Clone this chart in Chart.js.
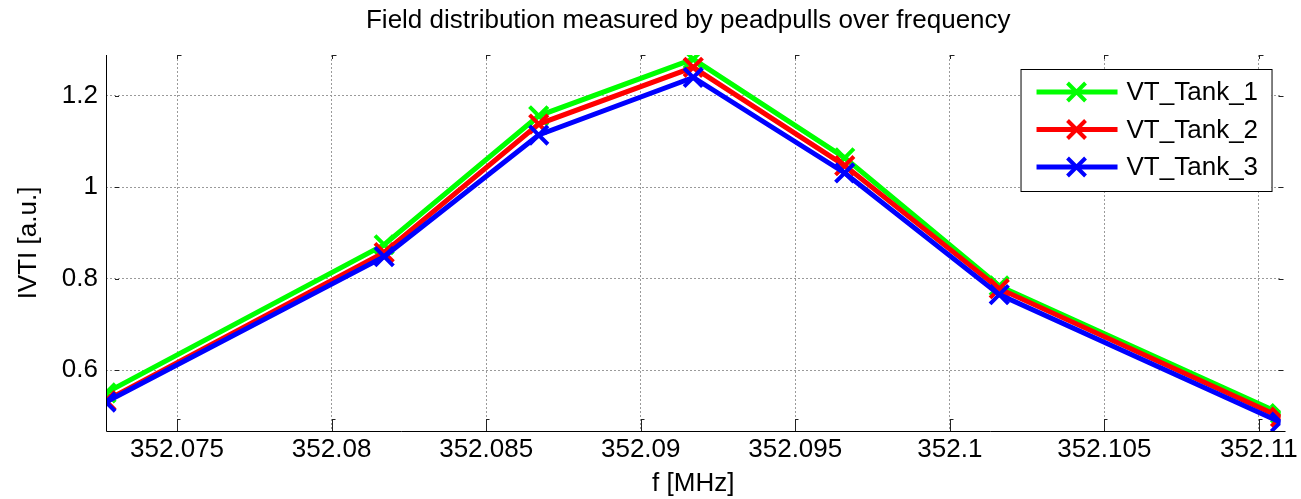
<!DOCTYPE html>
<html>
<head>
<meta charset="utf-8">
<script src="https://cdn.jsdelivr.net/npm/chart.js@4.4.1/dist/chart.umd.min.js"></script>
<style>
  html, body { margin: 0; padding: 0; background: #fff; }
  #wrap { position: relative; width: 1301px; height: 499px; }
</style>
</head>
<body>
<div id="wrap"><canvas id="chart"></canvas></div>
<script>
// Peak-pull field measurements, one series per tank
const freqMHz  = [352.0727, 352.0817, 352.0867, 352.0917, 352.0966, 352.1016, 352.1107];
const vtTank1  = [0.550, 0.874, 1.156, 1.280, 1.064, 0.784, 0.505];
const vtTank2  = [0.533, 0.857, 1.138, 1.262, 1.047, 0.778, 0.497];
const vtTank3  = [0.530, 0.848, 1.114, 1.240, 1.031, 0.765, 0.486];
const seriesNames  = ['VT_Tank_1', 'VT_Tank_2', 'VT_Tank_3'];
const seriesColors = ['#00ff00', '#ff0000', '#0000ff'];
const xTickValues = [352.075, 352.08, 352.085, 352.09, 352.095, 352.1, 352.105, 352.11];
const yTickValues = [0.6, 0.8, 1.0, 1.2];
const xLimits = [352.0727, 352.1107];
const yLimits = [0.4667, 1.289];
const chartTitle = 'Field distribution measured by peadpulls over frequency';

const FONT = "'Liberation Sans', Arial, Helvetica, sans-serif";
const seriesValues = [vtTank1, vtTank2, vtTank3];

const datasets = seriesValues.map((vals, i) => ({
  label: seriesNames[i],
  data: freqMHz.map((f, k) => ({ x: f, y: vals[k] })),
  borderColor: seriesColors[i],
  backgroundColor: seriesColors[i],
  borderWidth: 5,
  pointStyle: 'crossRot',
  pointRadius: 13,
  pointBorderWidth: 4,
  pointHoverRadius: 13,
  tension: 0,
  fill: false,
  order: 3 - i          // blue drawn last, on top
}));

// Title over the axes, axis lines, inward tick marks and the boxed legend
const axesAndLegend = {
  id: 'axesAndLegend',
  afterDatasetsDraw(chart) {
    const { ctx, chartArea: a, scales } = chart;
    ctx.save();

    ctx.fillStyle = '#000';
    ctx.font = `26px ${FONT}`;
    ctx.textAlign = 'center';
    ctx.textBaseline = 'middle';
    ctx.fillText(chartTitle, (a.left + a.right) / 2 - 5, 21);

    ctx.strokeStyle = '#000';
    ctx.lineWidth = 1;
    ctx.beginPath();
    ctx.moveTo(a.left + 0.5, a.top);
    ctx.lineTo(a.left + 0.5, a.bottom + 0.5);
    ctx.lineTo(a.right + 5, a.bottom + 0.5);
    ctx.stroke();

    ctx.strokeStyle = '#222';
    ctx.beginPath();
    xTickValues.forEach(v => {
      const x = Math.round(scales.x.getPixelForValue(v)) + 0.5;
      ctx.moveTo(x, a.bottom);
      ctx.lineTo(x, a.bottom - 12);
      ctx.moveTo(x, a.bottom - 11.5);
      ctx.lineTo(x + 3, a.bottom - 11.5);
      ctx.moveTo(x, a.top);
      ctx.lineTo(x, a.top + 4);
      ctx.moveTo(x, a.top + 0.5);
      ctx.lineTo(x + 4, a.top + 0.5);
    });
    yTickValues.forEach(v => {
      const y = Math.round(scales.y.getPixelForValue(v)) + 0.5;
      ctx.moveTo(a.left + 9, y);
      ctx.lineTo(a.left + 13, y);
      ctx.moveTo(a.right - 2, y);
      ctx.lineTo(a.right + 3, y);
    });
    ctx.stroke();

    // legend box
    const w = 251, h = 122;
    const lx = a.right - 260, ly = a.top + 14;
    ctx.fillStyle = '#fff';
    ctx.fillRect(lx, ly, w, h);
    ctx.strokeStyle = '#000';
    ctx.lineWidth = 1;
    ctx.strokeRect(lx + 0.5, ly + 0.5, w, h);
    seriesNames.forEach((name, i) => {
      const cy = ly + 23 + i * 37.5;
      ctx.strokeStyle = seriesColors[i];
      ctx.lineWidth = 5;
      ctx.beginPath();
      ctx.moveTo(lx + 16, cy);
      ctx.lineTo(lx + 97, cy);
      ctx.stroke();
      const cx = lx + 56, r = 9;
      ctx.lineWidth = 4;
      ctx.beginPath();
      ctx.moveTo(cx - r, cy - r); ctx.lineTo(cx + r, cy + r);
      ctx.moveTo(cx - r, cy + r); ctx.lineTo(cx + r, cy - r);
      ctx.stroke();
      ctx.fillStyle = '#000';
      ctx.font = `26px ${FONT}`;
      ctx.textAlign = 'left';
      ctx.textBaseline = 'middle';
      ctx.fillText(name, lx + 106, cy + 1);
    });
    ctx.restore();
  }
};

new Chart(document.getElementById('chart'), {
  type: 'line',
  data: { datasets },
  plugins: [axesAndLegend],
  options: {
    responsive: true,
    maintainAspectRatio: false,
    animation: false,
    events: [],
    layout: { padding: { left: 0, right: 16, top: 55, bottom: 0 } },
    plugins: {
      legend: { display: false },
      tooltip: { enabled: false },
      title: { display: false }
    },
    scales: {
      x: {
        type: 'linear',
        min: xLimits[0],
        max: xLimits[1],
        afterBuildTicks: s => { s.ticks = xTickValues.map(v => ({ value: v })); },
        afterFit: s => { s.height = 68; },
        ticks: {
          color: '#000',
          font: { family: FONT, size: 26 },
          padding: 3,
          maxRotation: 0,
          autoSkip: false,
          callback: v => String(+Number(v).toFixed(3))
        },
        grid: { color: '#9a9a9a', lineWidth: 1, drawTicks: false },
        border: { display: false, dash: [2, 2] },
        title: {
          display: true,
          text: 'f [MHz]',
          color: '#000',
          font: { family: FONT, size: 26 },
          padding: { top: 0, bottom: 0 }
        }
      },
      y: {
        type: 'linear',
        min: yLimits[0],
        max: yLimits[1],
        afterBuildTicks: s => { s.ticks = yTickValues.map(v => ({ value: v })); },
        afterFit: s => { s.width = 106; },
        ticks: {
          color: '#000',
          font: { family: FONT, size: 26 },
          padding: 8,
          autoSkip: false,
          callback: v => String(+Number(v).toFixed(1))
        },
        grid: { color: '#9a9a9a', lineWidth: 1, drawTicks: false },
        border: { display: false, dash: [2, 2] },
        title: {
          display: true,
          text: 'IVTI [a.u.]',
          color: '#000',
          font: { family: FONT, size: 26 },
          padding: { top: 13, bottom: 0 }
        }
      }
    }
  }
});
</script>
</body>
</html>
